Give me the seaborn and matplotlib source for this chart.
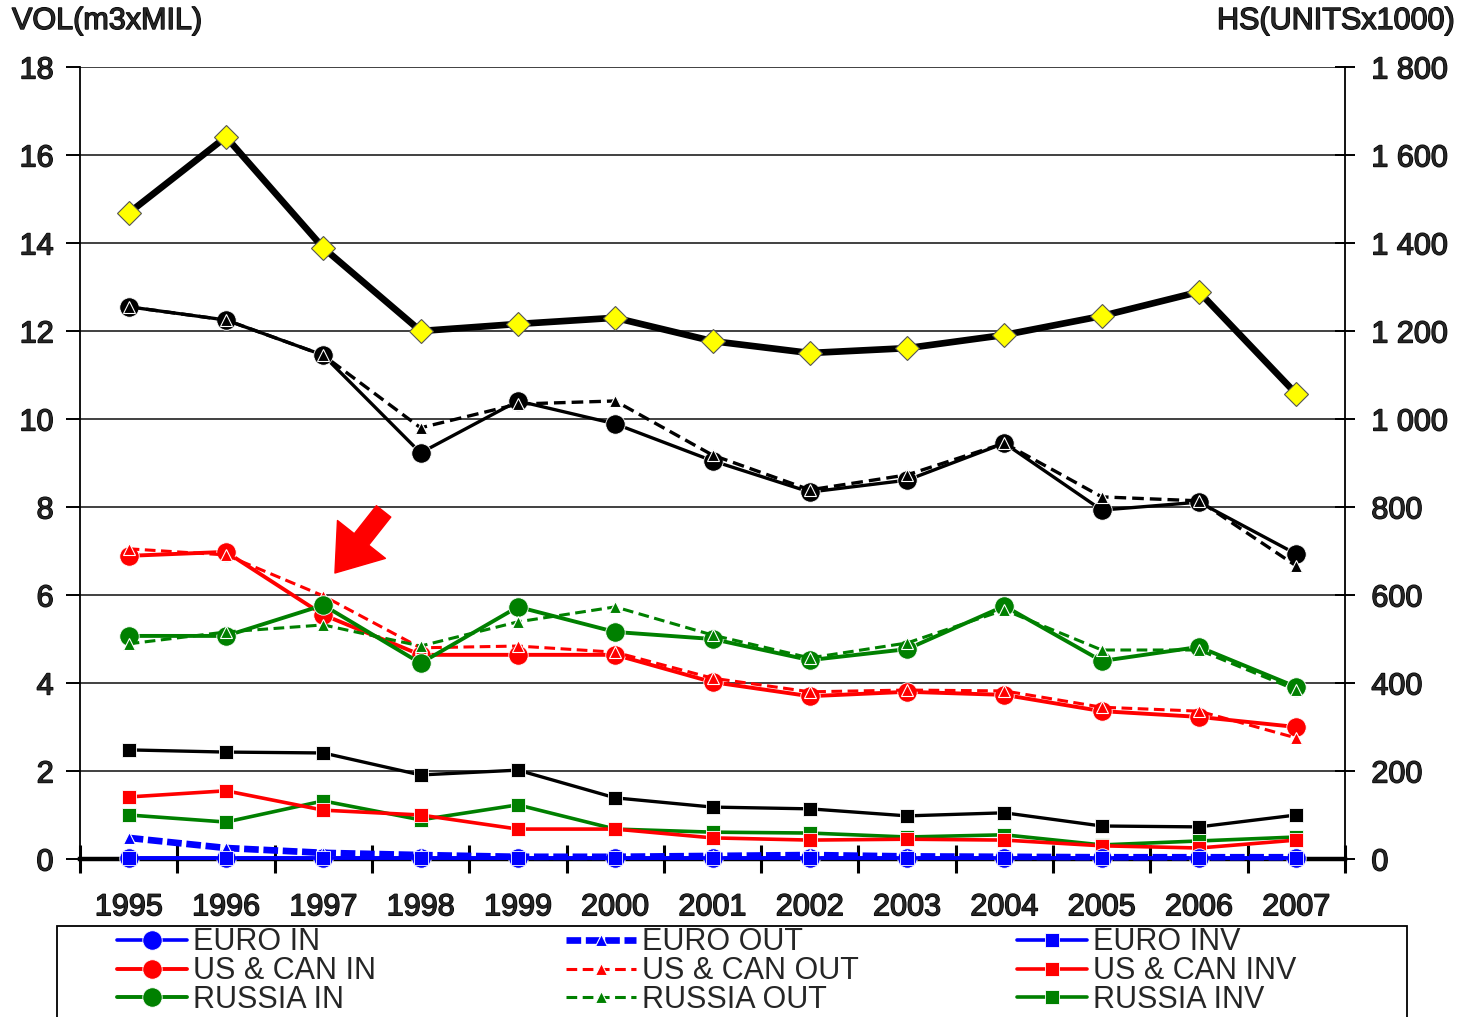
import matplotlib
matplotlib.use("Agg")
import matplotlib.pyplot as plt
import matplotlib.patheffects as pe
from matplotlib.patches import Rectangle
import seaborn as sns
import numpy as np

years = list(range(1995, 2008))

# volumes, m3 x million (left axis)
total_in = [12.55, 12.25, 11.45, 9.23, 10.41, 9.89, 9.05, 8.34, 8.61, 9.45, 7.93, 8.11, 6.93]
total_out = [12.55, 12.25, 11.45, 9.80, 10.34, 10.41, 9.18, 8.39, 8.73, 9.45, 8.23, 8.14, 6.66]
total_inv = [2.48, 2.43, 2.41, 1.91, 2.02, 1.39, 1.18, 1.14, 0.98, 1.05, 0.75, 0.73, 1.00]

euro_in = [0.02, 0.02, 0.02, 0.02, 0.02, 0.02, 0.02, 0.02, 0.02, 0.02, 0.02, 0.02, 0.02]
euro_out = [0.48, 0.25, 0.14, 0.09, 0.05, 0.05, 0.07, 0.09, 0.06, 0.05, 0.04, 0.04, 0.04]
euro_inv = [0.03, 0.03, 0.03, 0.03, 0.03, 0.03, 0.03, 0.03, 0.03, 0.03, 0.03, 0.03, 0.03]

uscan_in = [6.89, 6.98, 5.55, 4.64, 4.64, 4.64, 4.02, 3.70, 3.80, 3.73, 3.36, 3.23, 3.00]
uscan_out = [7.05, 6.91, 5.98, 4.80, 4.84, 4.70, 4.11, 3.80, 3.84, 3.82, 3.45, 3.36, 2.75]
uscan_inv = [1.41, 1.55, 1.11, 1.00, 0.68, 0.68, 0.48, 0.43, 0.45, 0.43, 0.30, 0.25, 0.43]

russia_in = [5.07, 5.07, 5.77, 4.45, 5.73, 5.16, 5.00, 4.52, 4.77, 5.75, 4.50, 4.82, 3.91]
russia_out = [4.89, 5.16, 5.32, 4.84, 5.39, 5.73, 5.09, 4.57, 4.91, 5.66, 4.75, 4.75, 3.84]
russia_inv = [1.00, 0.84, 1.32, 0.89, 1.23, 0.68, 0.61, 0.59, 0.50, 0.55, 0.32, 0.41, 0.50]

# housing starts, units x 1000 (right axis)
hs = [1468, 1641, 1389, 1200, 1216, 1230, 1177, 1150, 1161, 1191, 1234, 1289, 1057]

vol_ticks = list(range(0, 19, 2))
hs_ticks = list(range(0, 1801, 200))
hs_tick_labels = ["0", "200", "400", "600", "800", "1 000", "1 200", "1 400", "1 600", "1 800"]

sns.set_style("white")
plt.rcParams["font.family"] = ["Liberation Sans", "DejaVu Sans"]
plt.rcParams["font.size"] = 22

W, H = 1466, 1017
fig = plt.figure(figsize=(W / 100, H / 100), dpi=100)
ax = fig.add_axes([80 / W, 1 - 859 / H, (1345 - 80) / W, (859 - 67) / H])
ax2 = ax.twinx()

dash = (0, (3.5, 1.8))
BLUE, RED, GREEN = "#0000FF", "#FF0000", "#008000"
STYLES = {
    "in": dict(marker="o", markersize=14, markeredgecolor="white", markeredgewidth=0.6, linestyle="-"),
    "out": dict(marker="^", markersize=9, markeredgecolor="white", markeredgewidth=0.8, linestyle=dash),
    "inv": dict(marker="s", markersize=10, markeredgecolor="white", markeredgewidth=0.6, linestyle="-"),
}


def draw(y, color, kind, lw, label="_nolegend_", z=2, **extra):
    kw = dict(STYLES[kind])
    kw.update(extra)
    sns.lineplot(x=years, y=y, ax=ax, color=color, linewidth=lw, markerfacecolor=color,
                 label=label, zorder=z, clip_on=False, **kw)


# black totals
draw(total_in, "black", "in", 2.4, z=3)
draw(total_out, "black", "out", 2.4, z=3)
draw(total_inv, "black", "inv", 2.4, z=3)

draw(russia_inv, GREEN, "inv", 2.6, "RUSSIA INV", z=3)
draw(uscan_inv, RED, "inv", 2.6, "US & CAN INV", z=3)

draw(uscan_in, RED, "in", 2.8, "US & CAN IN", z=4)
draw(uscan_out, RED, "out", 2.2, "US & CAN OUT", z=4)
draw(russia_in, GREEN, "in", 2.8, "RUSSIA IN", z=5)
draw(russia_out, GREEN, "out", 2.2, "RUSSIA OUT", z=5)

draw(euro_in, BLUE, "in", 2.6, "EURO IN", z=6)
draw(euro_out, BLUE, "out", 4.8, "EURO OUT", z=6, linestyle=(0, (2.2, 0.7)))
draw(euro_inv, BLUE, "inv", 2.6, "EURO INV", z=7)

sns.lineplot(x=years, y=hs, ax=ax2, color="black", linewidth=4.8, marker="D", markersize=12,
             markerfacecolor="#FFFF00", markeredgecolor="#555555", markeredgewidth=0.8,
             label="_nolegend_", zorder=5)

handles, labels = ax.get_legend_handles_labels()
for a in (ax, ax2):
    lg = a.get_legend()
    if lg is not None:
        lg.remove()

ax.set_xlim(1994.5, 2007.5)
ax.set_ylim(0, 18)
ax2.set_ylim(0, 1800)

ax.set_yticks(vol_ticks)
ax.set_yticklabels([str(v) for v in vol_ticks])
ax2.set_yticks(hs_ticks)
ax2.set_yticklabels(hs_tick_labels)

ax.set_xticks(np.arange(1994.5, 2008, 1.0))
ax.set_xticklabels([])
ax.set_xticks(years, minor=True)
ax.set_xticklabels([str(y) for y in years], minor=True)
ax.tick_params(axis="x", which="major", direction="inout", length=20, width=2.2, color="black", bottom=True)
ax.tick_params(axis="x", which="minor", length=0, pad=24, labelsize=22)
ax.tick_params(axis="y", direction="out", length=10, width=1.4, color="black", left=True, pad=9, labelsize=22)
ax2.tick_params(axis="y", direction="inout", length=14, width=1.4, color="black", right=True, pad=12, labelsize=22)

ax.set_xlabel("")
ax.set_ylabel("")
ax2.set_ylabel("")

ax.grid(axis="y", color="#404040", linewidth=1.4)
ax.grid(axis="x", visible=False)
ax2.grid(False)
ax.set_axisbelow(True)

ax.spines["top"].set_visible(False)
ax.spines["right"].set_visible(False)
ax.spines["left"].set_linewidth(1.3)
ax.spines["left"].set_color("black")
ax.spines["bottom"].set_linewidth(3.2)
ax.spines["bottom"].set_color("black")
ax.spines["bottom"].set_zorder(1)
for s in ("top", "left", "bottom"):
    ax2.spines[s].set_visible(False)
ax2.spines["right"].set_linewidth(1.3)
ax2.spines["right"].set_color("black")

stroke = [pe.withStroke(linewidth=1.0, foreground="black")]
for t in ax.get_yticklabels() + ax2.get_yticklabels() + ax.get_xticklabels(minor=True):
    t.set_path_effects(stroke)

fig.text(12 / W, 1 - 21 / H, "VOL(m3xMIL)", ha="left", va="center", fontsize=22, path_effects=stroke)
fig.text(1455 / W, 1 - 21 / H, "HS(UNITSx1000)", ha="right", va="center", fontsize=22, path_effects=stroke)

ax.annotate("", xy=(1997.12, 6.5), xytext=(1997.62, 7.9),
            arrowprops=dict(arrowstyle="simple,head_length=1.4,head_width=2.0,tail_width=0.6",
                            color="#FF0000", mutation_scale=22, shrinkA=0, shrinkB=0))

# legend in three fixed columns
hmap = dict(zip(labels, handles))
columns = [
    (117, ["EURO IN", "US & CAN IN", "RUSSIA IN"]),
    (566, ["EURO OUT", "US & CAN OUT", "RUSSIA OUT"]),
    (1017, ["EURO INV", "US & CAN INV", "RUSSIA INV"]),
]
for x0, labs in columns:
    fig.legend([hmap[l] for l in labs], labs, loc="upper left",
               bbox_to_anchor=(x0 / W, 1 - 927.5 / H), bbox_transform=fig.transFigure,
               frameon=False, borderpad=0, borderaxespad=0, handlelength=2.3,
               handletextpad=0.2, labelspacing=-0.04, fontsize=22)

fig.patches.append(Rectangle((57 / W, -0.05), 1350 / W, (1017 - 926) / H + 0.05,
                             transform=fig.transFigure, fill=False, edgecolor="black", linewidth=1.3))

fig.savefig("out.png", dpi=100)
